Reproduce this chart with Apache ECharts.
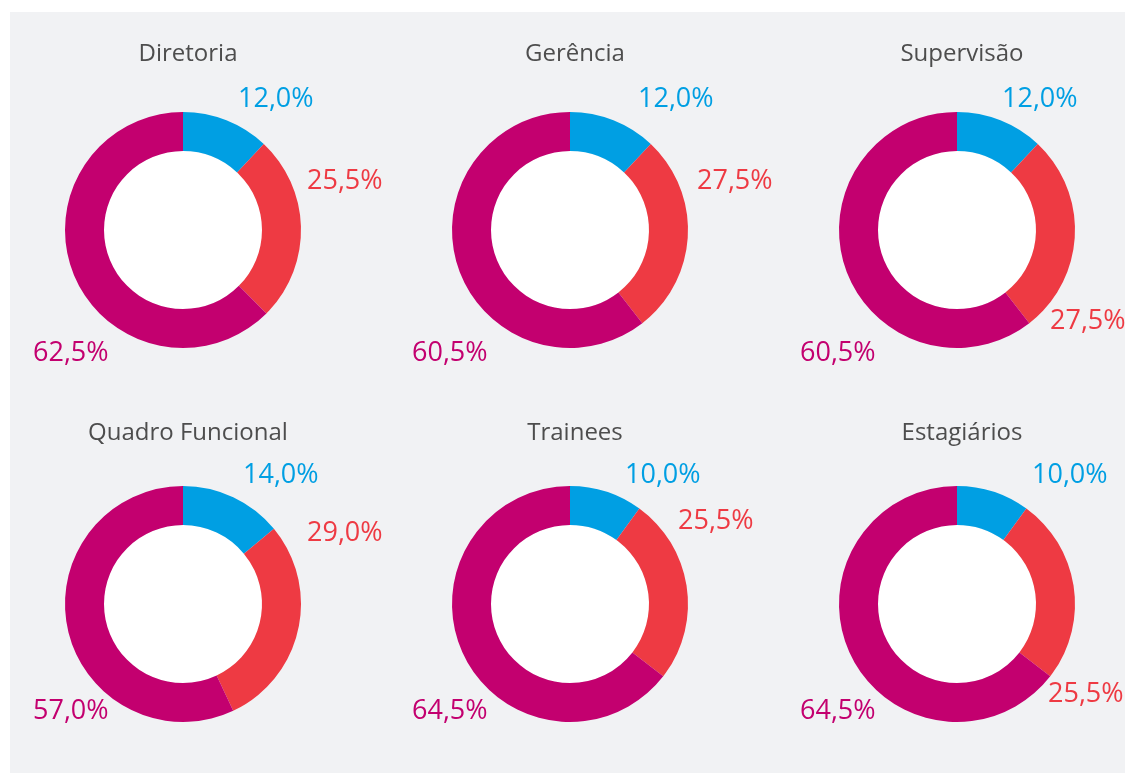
<!DOCTYPE html>
<html>
<head>
<meta charset="utf-8">
<script src="https://cdn.jsdelivr.net/npm/echarts@6/dist/echarts.min.js"></script>
<style>
  html, body { margin: 0; padding: 0; background: #ffffff; }
  #chart { width: 1125px; height: 774px; }
</style>
</head>
<body>
<div id="chart"></div>
<script>
// ---- Data ----
const categories = ['Diretoria', 'Gerência', 'Supervisão', 'Quadro Funcional', 'Trainees', 'Estagiários'];
const blueValues = [12.0, 12.0, 12.0, 14.0, 10.0, 10.0];
const redValues = [25.5, 27.5, 27.5, 29.0, 25.5, 25.5];
const magentaValues = [62.5, 60.5, 60.5, 57.0, 64.5, 64.5];

// ---- Layout (pixels) ----
const centers = [[183, 230], [570, 230], [957, 230], [183, 604], [570, 604], [957, 604]];
const titleTops = [37, 37, 37, 416, 416, 416];
// label anchor offsets from donut center: [left x, middle y] per slice (blue, red, magenta)
const labelOffsets = [
  [[55, -131], [124, -49], [-150, 123]],
  [[68, -131], [127, -49], [-158, 123]],
  [[45, -131], [93, 91], [-157, 123]],
  [[60, -129], [124, -71], [-150, 107]],
  [[55, -129], [108, -83], [-158, 107]],
  [[75, -129], [91, 90], [-157, 107]]
];
const colors = ['#009fe3', '#ee3a43', '#c3006f'];
const FONT = '"Open Sans", "Noto Sans", sans-serif';

const chart = echarts.init(document.getElementById('chart'), null, { renderer: 'canvas' });

const fmt = v => v.toFixed(1).replace('.', ',') + '%';

const titles = categories.map((c, i) => ({
  text: c,
  left: centers[i][0],
  top: titleTops[i],
  textAlign: 'center',
  textStyle: { fontFamily: FONT, fontSize: 24, fontWeight: 'normal', color: '#4d4d4d' }
}));

const series = categories.map((c, i) => ({
  type: 'pie',
  name: c,
  center: centers[i],
  radius: [79, 118],
  startAngle: 90,
  clockwise: true,
  avoidLabelOverlap: false,
  silent: true,
  labelLine: { show: false },
  label: {
    show: true,
    position: 'outside',
    fontFamily: FONT,
    fontSize: 27,
    formatter: p => fmt(p.value)
  },
  labelLayout: (params) => {
    const o = labelOffsets[i][params.dataIndex];
    return { x: centers[i][0] + o[0], y: centers[i][1] + o[1], align: 'left', verticalAlign: 'middle' };
  },
  itemStyle: { borderWidth: 0 },
  data: [
    { value: blueValues[i], itemStyle: { color: colors[0] }, label: { color: colors[0] } },
    { value: redValues[i], itemStyle: { color: colors[1] }, label: { color: colors[1] } },
    { value: magentaValues[i], itemStyle: { color: colors[2] }, label: { color: colors[2] } }
  ]
}));

// white inner discs
const innerDiscs = categories.map((c, i) => ({
  type: 'pie',
  center: centers[i],
  radius: [0, 79],
  silent: true,
  label: { show: false },
  labelLine: { show: false },
  data: [{ value: 1, itemStyle: { color: '#ffffff' } }]
}));

chart.setOption({
  animation: false,
  backgroundColor: '#ffffff',
  graphic: [{
    type: 'rect',
    z: -10,
    silent: true,
    shape: { x: 10, y: 12, width: 1115, height: 761 },
    style: { fill: '#f1f2f4' }
  }],
  title: titles,
  series: innerDiscs.concat(series)
});
</script>
</body>
</html>
